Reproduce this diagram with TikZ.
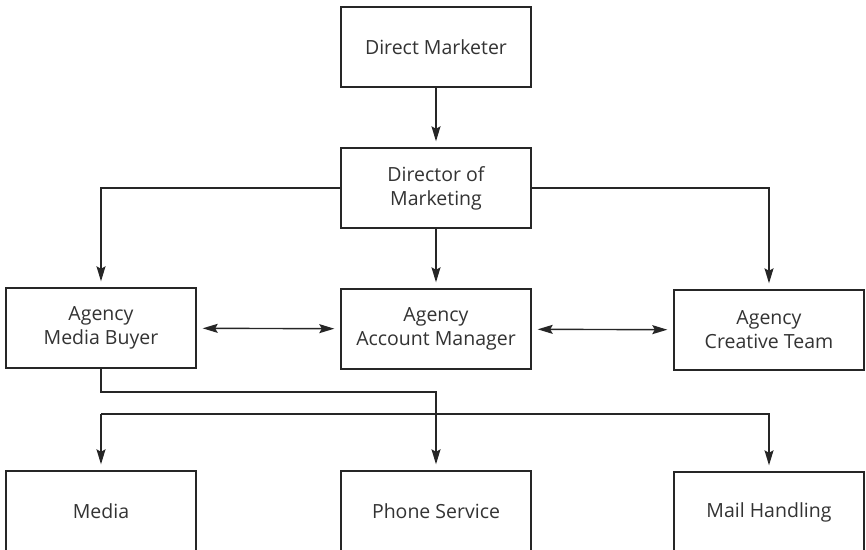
\documentclass[tikz,border=0pt]{standalone}
\usepackage{fontspec}
\setmainfont{Open Sans}
\usetikzlibrary{arrows.meta,calc}
\begin{document}
\begin{tikzpicture}[x=1pt,y=-1pt,
  box/.style={draw=black!85,line width=1.4pt,minimum width=190pt,minimum height=80pt,
    align=center,inner sep=0pt,text=black!80,
    font=\fontsize{19.5}{24}\selectfont},
  conn/.style={draw=black!85,line width=1.4pt},
  tip/.style={},
  arr/.style={conn,-{Stealth[length=15pt,width=9pt,inset=2.5pt]},shorten >=6pt},
  darr/.style={conn,{Stealth[length=15pt,width=9pt,inset=2.5pt]}-{Stealth[length=15pt,width=9pt,inset=2.5pt]},shorten >=6pt,shorten <=6pt}]
\useasboundingbox (0,0) rectangle (866,549);
\clip (0,0) rectangle (866,549);
\fill[white] (0,0) rectangle (866,549);
\node[box] (dm) at (436,47) {Direct Marketer};
\node[box] (dom) at (436,188) {Director of\\Marketing};
\node[box] (mb) at (101,328) {Agency\\Media Buyer};
\node[box] (am) at (436,329) {Agency\\Account Manager};
\node[box] (ct) at (769,330) {Agency\\Creative Team};
\node[box] (media) at (101,511) {Media};
\node[box] (phone) at (436,511) {Phone Service};
\node[box] (mail) at (769,512) {Mail Handling};
\coordinate (busA) at (0,392);
\coordinate (busB) at (0,414);
\draw[arr] (dm) -- (dom);
\draw[arr] (dom.west) -| (mb.north);
\draw[arr] (dom.east) -| (ct.north);
\draw[arr] (dom) -- (am);
\draw[darr] (mb) -- (am);
\draw[darr] (am) -- (ct);
\draw[arr] (mb.south) -- (mb.south |- busA) -| (phone.north);
\draw[arr] (media.north |- busB) -- (media.north);
\draw[arr] (media.north |- busB) -| (mail.north);
\end{tikzpicture}
\end{document}
